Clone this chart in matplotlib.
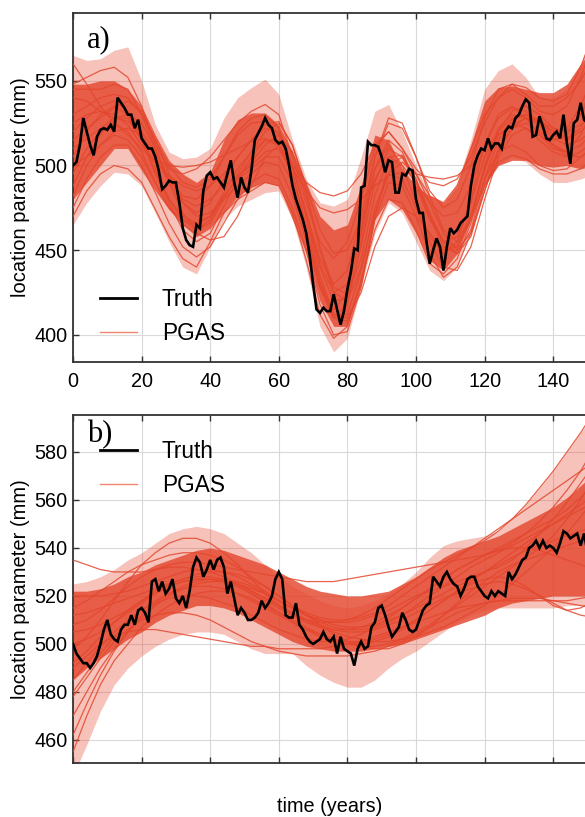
import numpy as np
import matplotlib
matplotlib.use("Agg")
import matplotlib.pyplot as plt
from matplotlib.lines import Line2D

plt.rcParams['font.family'] = ['Liberation Sans', 'DejaVu Sans']

years = np.arange(152)
knots = np.arange(0, 153, 4)

# ---- panel a: truth and PGAS samples ----
truth_a = [
    500, 502, 512, 528, 520, 512, 506, 517, 521, 522,
    521, 524, 520, 540, 537, 534, 530, 530, 522, 527,
    516, 513, 510, 510, 505, 497, 486, 488, 491, 490,
    490, 478, 463, 456, 453, 452, 465, 463, 485, 494,
    496, 492, 493, 490, 487, 495, 503, 490, 481, 493,
    487, 484, 497, 515, 519, 523, 528, 524, 522, 515,
    513, 514, 510, 500, 488, 480, 474, 468, 460, 447,
    430, 415, 413, 416, 414, 414, 424, 415, 406, 414,
    427, 437, 451, 450, 487, 488, 514, 512, 512, 511,
    505, 496, 503, 502, 484, 484, 495, 494, 498, 497,
    480, 472, 472, 456, 442, 450, 457, 452, 438, 452,
    463, 460, 462, 466, 468, 470, 488, 500, 506, 510,
    509, 516, 510, 513, 513, 510, 520, 523, 522, 528,
    530, 535, 539, 537, 517, 518, 529, 523, 516, 515,
    518, 520, 516, 530, 513, 501, 525, 527, 537, 527,
    525, 537,
]

band_hi_a = [565, 562, 563, 568, 570, 550, 524, 508, 504, 505,
             510, 528, 540, 546, 551, 542, 515, 492, 478, 476,
             480, 505, 532, 536, 520, 500, 482, 478, 490, 515,
             545, 556, 560, 552, 540, 540, 545, 560, 580]
band_lo_a = [465, 478, 488, 496, 495, 488, 472, 455, 440, 436,
             452, 468, 476, 480, 484, 485, 468, 440, 405, 390,
             398, 428, 460, 478, 472, 455, 438, 432, 440, 462,
             488, 500, 505, 502, 495, 490, 490, 492, 495]
core_hi_a = [548, 548, 550, 550, 545, 535, 518, 503, 495, 490,
             496, 515, 527, 531, 531, 524, 508, 490, 470, 462,
             465, 488, 518, 515, 498, 488, 482, 478, 488, 512,
             538, 546, 547, 545, 543, 543, 548, 560, 570]
core_lo_a = [480, 490, 500, 510, 510, 497, 485, 474, 465, 458,
             463, 472, 482, 487, 490, 488, 468, 448, 420, 405,
             405, 430, 468, 480, 474, 460, 444, 438, 448, 468,
             488, 500, 503, 503, 500, 499, 500, 498, 500]

pgas_a = [
    [548, 552, 556, 558, 552, 535, 512, 498, 495, 498, 505, 515, 525, 532, 536, 530, 505, 478, 455, 445,
     455, 480, 510, 520, 510, 495, 482, 478, 488, 510, 530, 540, 545, 540, 532, 530, 535, 552, 575],
    [470, 485, 495, 500, 498, 490, 474, 458, 445, 440, 455, 472, 480, 485, 490, 488, 472, 444, 412, 398,
     405, 432, 462, 480, 478, 462, 442, 436, 445, 466, 492, 508, 512, 508, 500, 497, 498, 505, 512],
    [525, 530, 532, 530, 524, 512, 503, 500, 499, 500, 502, 506, 510, 514, 516, 512, 498, 485, 475, 472,
     474, 480, 488, 494, 496, 495, 493, 492, 494, 500, 510, 518, 524, 528, 526, 522, 520, 524, 530],
    [505, 520, 530, 535, 530, 515, 495, 478, 462, 455, 460, 476, 492, 505, 515, 515, 500, 470, 440, 420,
     422, 452, 490, 510, 505, 488, 468, 455, 458, 478, 505, 520, 528, 530, 525, 518, 515, 520, 528],
    [540, 538, 532, 528, 526, 520, 508, 492, 480, 476, 480, 488, 494, 500, 508, 510, 495, 462, 428, 410,
     418, 455, 498, 515, 508, 490, 470, 455, 452, 468, 498, 520, 532, 535, 530, 522, 520, 530, 545],
    [495, 510, 520, 525, 520, 508, 490, 475, 468, 465, 470, 482, 493, 502, 512, 518, 508, 482, 450, 425,
     420, 440, 472, 495, 502, 495, 478, 460, 450, 460, 485, 508, 522, 528, 524, 516, 512, 515, 522],
    [515, 522, 528, 534, 538, 532, 515, 495, 478, 470, 472, 480, 488, 495, 502, 500, 482, 455, 428, 415,
     425, 460, 498, 512, 500, 478, 458, 448, 455, 480, 512, 530, 535, 528, 518, 510, 508, 518, 535],
    [482, 500, 512, 518, 515, 505, 490, 475, 465, 460, 456, 458, 470, 488, 505, 512, 500, 470, 435, 412,
     412, 438, 475, 495, 492, 475, 455, 440, 438, 452, 480, 505, 518, 522, 518, 512, 508, 512, 520],
    [560, 548, 535, 525, 518, 510, 502, 494, 488, 485, 488, 495, 505, 515, 524, 526, 512, 488, 462, 448,
     450, 468, 492, 505, 500, 490, 478, 470, 472, 488, 512, 528, 534, 532, 525, 520, 522, 535, 555],
    [510, 516, 522, 528, 530, 525, 510, 490, 472, 462, 466, 480, 495, 508, 520, 525, 512, 485, 452, 428,
     424, 445, 482, 505, 506, 492, 470, 452, 448, 462, 492, 515, 527, 530, 527, 520, 516, 522, 540],
    [500, 505, 512, 520, 522, 518, 505, 490, 478, 472, 478, 492, 505, 515, 522, 520, 500, 472, 445, 430,
     438, 470, 505, 525, 522, 505, 482, 462, 455, 470, 500, 522, 530, 528, 520, 515, 518, 530, 550],
    [520, 528, 535, 538, 532, 518, 498, 480, 468, 462, 468, 482, 492, 498, 505, 505, 490, 460, 430, 412,
     410, 425, 452, 470, 475, 470, 460, 450, 452, 470, 498, 518, 525, 522, 515, 508, 505, 508, 515],
    [530, 535, 540, 542, 540, 530, 515, 500, 490, 487, 492, 505, 518, 525, 526, 518, 500, 490, 484, 482,
     485, 495, 512, 520, 510, 498, 490, 488, 492, 505, 525, 540, 548, 546, 540, 538, 542, 558, 580],
    [475, 492, 505, 512, 512, 500, 484, 466, 452, 446, 452, 466, 480, 490, 495, 492, 475, 450, 418, 400,
     402, 428, 468, 490, 488, 470, 448, 434, 440, 460, 488, 502, 506, 504, 498, 495, 495, 498, 505],
    [545, 545, 545, 548, 545, 530, 510, 492, 482, 480, 488, 505, 520, 528, 530, 522, 500, 472, 442, 425,
     430, 462, 505, 528, 525, 505, 485, 475, 480, 500, 528, 545, 548, 542, 535, 535, 540, 550, 565],
    [488, 505, 518, 528, 528, 515, 496, 480, 470, 466, 470, 484, 498, 508, 515, 512, 495, 465, 432, 410,
     408, 430, 470, 500, 505, 492, 472, 455, 448, 458, 485, 510, 522, 525, 520, 512, 506, 505, 510],
]

# ---- panel b: truth and PGAS samples ----
truth_b = [
    500, 496, 494, 492, 492, 490, 492, 495, 500, 506,
    510, 504, 502, 501, 506, 508, 508, 512, 508, 514,
    515, 513, 509, 526, 527, 522, 526, 521, 523, 527,
    519, 517, 520, 515, 522, 532, 536, 534, 528, 531,
    535, 531, 535, 536, 532, 521, 526, 519, 512, 515,
    513, 510, 510, 511, 513, 518, 515, 517, 520, 527,
    530, 527, 512, 511, 511, 517, 508, 506, 503, 501,
    500, 501, 502, 505, 502, 501, 503, 496, 503, 498,
    497, 496, 491, 498, 501, 498, 499, 507, 509, 515,
    516, 512, 507, 503, 505, 507, 513, 510, 506, 505,
    506, 510, 514, 516, 517, 528, 526, 524, 528, 530,
    527, 525, 524, 520, 523, 527, 528, 528, 524, 522,
    520, 519, 522, 520, 522, 521, 520, 530, 527, 529,
    532, 535, 536, 540, 541, 543, 540, 543, 540, 541,
    540, 538, 542, 547, 546, 544, 545, 546, 541, 546,
    538, 540,
]

band_hi_b = [525, 526, 528, 531, 535, 538, 542, 546, 548, 549,
             548, 546, 542, 538, 533, 528, 524, 521, 518, 516,
             515, 516, 518, 521, 525, 530, 536, 541, 543, 544,
             545, 547, 552, 558, 565, 572, 580, 588, 596]
band_lo_b = [445, 458, 472, 483, 490, 495, 499, 502, 504, 505,
             505, 504, 501, 498, 496, 496, 496, 491, 487, 484,
             482, 482, 485, 490, 494, 497, 501, 505, 509, 512,
             514, 515, 515, 515, 515, 515, 516, 516, 516]
core_hi_b = [522, 522, 523, 525, 528, 530, 533, 535, 537, 539,
             540, 539, 537, 535, 533, 530, 527, 524, 522, 521,
             520, 520, 521, 522, 525, 528, 532, 536, 539, 541,
             543, 545, 548, 551, 554, 557, 561, 566, 571]
core_lo_b = [485, 490, 494, 498, 502, 505, 509, 512, 514, 516,
             516, 515, 513, 510, 507, 504, 501, 499, 498, 497,
             497, 497, 498, 499, 500, 502, 504, 506, 508, 510,
             512, 515, 517, 518, 519, 520, 520, 520, 520]

pgas_b = [
    [535, 533, 531, 530, 530, 530, 531, 532, 532, 531, 530, 528, 525, 522, 519, 516, 513, 510, 507, 505,
     503, 502, 501, 501, 502, 503, 505, 507, 510, 513, 516, 520, 525, 530, 535, 540, 546, 553, 560],
    [455, 470, 483, 493, 500, 507, 512, 516, 519, 521, 522, 522, 521, 519, 516, 513, 510, 507, 504, 502,
     500, 499, 499, 500, 502, 505, 508, 512, 516, 520, 524, 528, 532, 536, 540, 545, 552, 560, 570],
    [490, 495, 500, 503, 505, 506, 506, 505, 504, 503, 502, 501, 500, 499, 499, 498, 498, 498, 498, 499,
     500, 501, 503, 505, 507, 509, 511, 513, 515, 516, 517, 518, 518, 518, 518, 518, 518, 519, 520],
    [498, 503, 510, 518, 526, 533, 538, 542, 544, 544, 542, 538, 533, 527, 521, 516, 512, 509, 507, 506,
     506, 507, 509, 512, 515, 519, 523, 527, 531, 534, 537, 540, 543, 546, 549, 552, 556, 561, 567],
    [505, 506, 508, 511, 514, 518, 521, 524, 526, 527, 527, 526, 524, 521, 518, 515, 512, 510, 509, 509,
     510, 512, 515, 519, 523, 527, 531, 534, 537, 540, 543, 547, 552, 558, 565, 572, 580, 588, 597],
    [492, 497, 503, 509, 514, 518, 522, 525, 527, 528, 528, 527, 525, 522, 519, 516, 513, 510, 508, 506,
     505, 505, 506, 508, 510, 513, 516, 519, 521, 523, 525, 526, 525, 523, 520, 517, 514, 512, 511],
    [480, 488, 496, 503, 509, 514, 518, 521, 523, 524, 524, 523, 521, 518, 515, 512, 509, 506, 504, 502,
     501, 501, 502, 504, 507, 510, 514, 518, 522, 526, 530, 534, 538, 542, 546, 550, 554, 558, 562],
    [512, 513, 515, 517, 519, 521, 523, 525, 527, 529, 530, 530, 529, 527, 524, 520, 516, 512, 508, 504,
     501, 499, 498, 498, 500, 503, 507, 512, 517, 522, 526, 530, 533, 535, 537, 539, 541, 543, 545],
    [470, 480, 490, 498, 505, 511, 516, 520, 523, 525, 526, 526, 525, 523, 521, 518, 515, 512, 510, 508,
     507, 507, 508, 510, 512, 515, 518, 521, 524, 527, 530, 533, 536, 539, 541, 543, 545, 547, 549],
    [520, 520, 520, 521, 522, 524, 526, 528, 530, 531, 531, 530, 528, 525, 522, 518, 515, 512, 510, 509,
     509, 510, 512, 514, 517, 520, 522, 524, 526, 528, 530, 532, 535, 540, 546, 552, 559, 567, 575],
    [500, 502, 505, 509, 513, 517, 521, 524, 526, 527, 527, 526, 524, 521, 517, 513, 509, 506, 503, 501,
     500, 500, 501, 503, 506, 510, 514, 518, 522, 525, 527, 528, 527, 524, 520, 516, 514, 515, 518],
    [462, 475, 487, 497, 505, 512, 517, 521, 524, 526, 527, 527, 526, 524, 521, 518, 515, 512, 509, 507,
     506, 506, 507, 509, 512, 516, 520, 524, 528, 532, 535, 538, 541, 544, 547, 550, 553, 556, 559],
    [508, 510, 514, 519, 524, 528, 531, 533, 534, 534, 533, 532, 531, 530, 529, 528, 527, 526, 526, 526,
     527, 528, 529, 530, 531, 532, 533, 534, 535, 536, 537, 539, 542, 546, 551, 557, 564, 572, 582],
    [478, 486, 494, 501, 506, 510, 512, 513, 513, 512, 510, 507, 504, 501, 499, 497, 496, 495, 495, 495,
     495, 496, 497, 499, 501, 504, 507, 510, 513, 515, 517, 518, 519, 519, 519, 518, 517, 516, 515],
    [515, 518, 522, 526, 530, 533, 535, 537, 538, 538, 537, 535, 532, 528, 524, 520, 516, 513, 511, 510,
     510, 511, 513, 516, 520, 524, 528, 532, 536, 540, 544, 548, 552, 556, 560, 564, 568, 572, 576],
    [485, 492, 499, 505, 510, 514, 517, 519, 520, 520, 519, 517, 515, 512, 509, 506, 504, 502, 501, 501,
     502, 504, 507, 511, 515, 519, 523, 527, 531, 534, 537, 539, 540, 540, 539, 537, 535, 533, 531],
]

xticks = [0, 20, 40, 60, 80, 100, 120, 140]
yticks_a = [400, 450, 500, 550]
yticks_b = [460, 480, 500, 520, 540, 560, 580]

RED = '#e4472e'
W, H = 585, 817
fig = plt.figure(figsize=(W / 100, H / 100), dpi=100)

left = 73 / W
width = 160 * 3.43 / W   # axis runs past the right edge of the page
ax_a = fig.add_axes([left, (H - 362) / H, width, 349 / H])
ax_b = fig.add_axes([left, (H - 763) / H, width, 348 / H])


def draw_panel(ax, truth, band_lo, band_hi, core_lo, core_hi, samples, ylim, yticks):
    ax.fill_between(knots, band_lo, band_hi, color=RED, alpha=0.33, lw=0, zorder=1)
    ax.fill_between(knots, core_lo, core_hi, color=RED, alpha=0.82, lw=0, zorder=2)
    for s in samples:
        ax.plot(knots, s, color=RED, lw=0.9, alpha=0.85, zorder=3)
    ax.plot(years, truth, color='black', lw=1.9, zorder=5, solid_joinstyle='miter')
    ax.set_xlim(0, 160)
    ax.set_ylim(*ylim)
    ax.set_xticks(xticks)
    ax.set_yticks(yticks)
    ax.grid(True, color='#d9d9d9', lw=0.8, zorder=0)
    ax.set_axisbelow(True)
    ax.tick_params(direction='in', length=4, width=1, color='#333333',
                   top=True, right=True, labelsize=14.3, pad=4)
    for sp in ax.spines.values():
        sp.set_color('#333333')
        sp.set_linewidth(1.3)


draw_panel(ax_a, truth_a, band_lo_a, band_hi_a, core_lo_a, core_hi_a, pgas_a,
           (384, 590), yticks_a)
draw_panel(ax_b, truth_b, band_lo_b, band_hi_b, core_lo_b, core_hi_b, pgas_b,
           (450.4, 595.4), yticks_b)
ax_a.tick_params(axis='x', pad=7)
ax_b.tick_params(axis='x', labelbottom=False)

handles = [Line2D([], [], color='black', lw=2.0),
           Line2D([], [], color='#f08672', lw=1.0)]
leg_kw = dict(frameon=False, fontsize=16.3, handlelength=1.65, handletextpad=1.1,
              labelspacing=0.5, borderaxespad=0)
ax_a.legend(handles, ['Truth', 'PGAS'], loc='upper left',
            bbox_to_anchor=(0.032, 0.239), **leg_kw)
ax_b.legend(handles, ['Truth', 'PGAS'], loc='upper left',
            bbox_to_anchor=(0.032, 0.954), **leg_kw)

ax_a.text(0.026, 0.965, 'a)', transform=ax_a.transAxes, ha='left', va='top',
          family=['Liberation Serif', 'DejaVu Serif'], fontsize=22, zorder=6)
ax_b.text(0.026, 0.985, 'b)', transform=ax_b.transAxes, ha='left', va='top',
          family=['Liberation Serif', 'DejaVu Serif'], fontsize=22, zorder=6)

for yc in [(13 + 362) / 2, (415 + 763) / 2]:
    fig.text(21 / W, (H - yc) / H, 'location parameter (mm)', rotation=90,
             ha='center', va='center', fontsize=14.5)
fig.text(330 / W, (H - 806) / H, 'time (years)', ha='center', va='center', fontsize=14.3)

fig.savefig('out.png', dpi=100)
